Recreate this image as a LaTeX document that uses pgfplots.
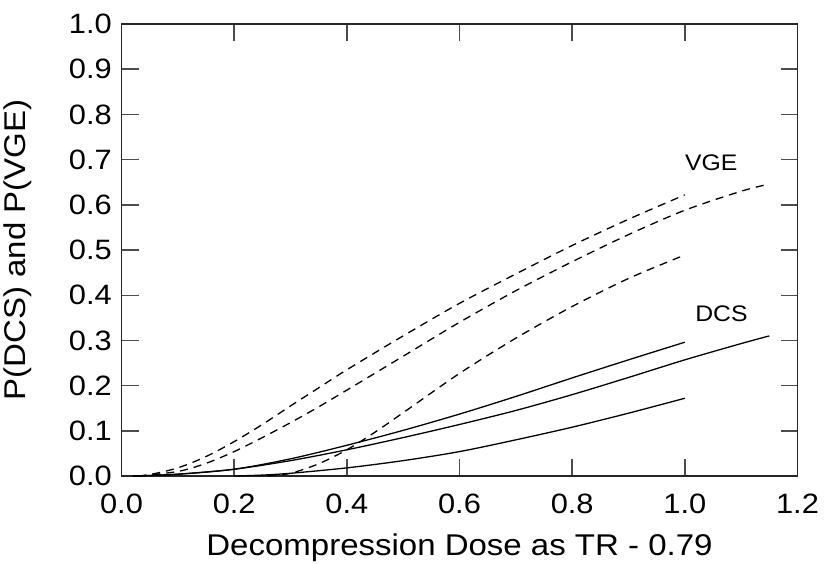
\documentclass[border=0pt]{standalone}
\usepackage{fontspec}
\setmainfont{Liberation Sans}[FakeStretch=1.1]
\usepackage{pgfplots}
\pgfplotsset{compat=1.18}
\begin{document}
\begin{tikzpicture}
\begin{axis}[
  scale only axis,
  width=676pt, height=452pt,
  xmin=0, xmax=1.2, ymin=0, ymax=1.0,
  xtick={0,0.2,...,1.21}, ytick={0,0.1,...,1.01},
  /pgf/number format/assume math mode=true,
  /pgf/number format/fixed, /pgf/number format/fixed zerofill,
  /pgf/number format/precision=1,
  tick pos=both, tick align=inside,
  major tick length=17pt,
  axis line style={line width=1.6pt, black!85},
  every tick/.style={line width=1.4pt, black!70},
  tick label style={font=\fontsize{28}{32}\selectfont, inner sep=0pt},
  xticklabel style={anchor=base, yshift=-37pt},
  yticklabel style={anchor=east, xshift=-9.5pt},
  label style={font=\fontsize{30}{34}\selectfont, inner sep=0pt},
  xlabel={Decompression Dose as TR - 0.79},
  xlabel style={at={(axis description cs:0.5,0)}, anchor=base, yshift=-79pt},
  ylabel={P(DCS) and P(VGE)},
  ylabel style={at={(axis description cs:-0.1413,0.5)}, anchor=base},
  every axis plot/.append style={black, line width=1.3pt, no markers},
  clip=false,
]
% VGE curves (dashed)
\addplot[smooth, dash pattern=on 8pt off 6pt] coordinates {
 (0.03,0) (0.05,0.003) (0.1,0.018) (0.15,0.043) (0.2,0.076) (0.25,0.114)
 (0.3,0.155) (0.35,0.195) (0.4,0.235) (0.5,0.31) (0.6,0.382) (0.7,0.447)
 (0.8,0.51) (0.9,0.568) (1.0,0.622)};
\addplot[smooth, dash pattern=on 8pt off 6pt] coordinates {
 (0.03,0) (0.1,0.01) (0.15,0.028) (0.2,0.054) (0.25,0.085) (0.3,0.118)
 (0.35,0.153) (0.4,0.19) (0.5,0.265) (0.6,0.34) (0.7,0.41) (0.8,0.474)
 (0.9,0.534) (1.0,0.588) (1.1,0.630) (1.15,0.646)};
\addplot[smooth, dash pattern=on 8pt off 6pt] coordinates {
 (0.26,0) (0.3,0.006) (0.35,0.027) (0.4,0.058) (0.45,0.097) (0.5,0.14)
 (0.6,0.227) (0.7,0.305) (0.8,0.375) (0.9,0.437) (1.0,0.489)};
% DCS curves (solid)
\addplot[smooth] coordinates {
 (0.02,0) (0.1,0.004) (0.2,0.015) (0.3,0.038) (0.4,0.068) (0.5,0.101)
 (0.6,0.137) (0.7,0.176) (0.8,0.217) (0.9,0.257) (1.0,0.296)};
\addplot[smooth] coordinates {
 (0.02,0) (0.1,0.004) (0.2,0.015) (0.3,0.034) (0.4,0.058) (0.5,0.085)
 (0.6,0.114) (0.7,0.145) (0.8,0.180) (0.9,0.218) (1.0,0.257) (1.1,0.293) (1.15,0.310)};
\addplot[smooth] coordinates {
 (0.2,0) (0.25,0.002) (0.3,0.006) (0.4,0.018) (0.5,0.034) (0.6,0.054)
 (0.7,0.080) (0.8,0.108) (0.9,0.139) (1.0,0.172)};
\node[font=\fontsize{22.5}{26}\selectfont, inner sep=0pt] at (axis cs:1.047,0.692) {VGE};
\node[font=\fontsize{22.5}{26}\selectfont, inner sep=0pt] at (axis cs:1.065,0.358) {DCS};
\coordinate (bl) at (rel axis cs:0,0);
\coordinate (tr) at (rel axis cs:1,1);
\end{axis}
\pgfresetboundingbox
\path ([shift={(-121.5pt,-87pt)}]bl) rectangle ([shift={(28.5pt,24pt)}]tr);
\end{tikzpicture}
\end{document}
